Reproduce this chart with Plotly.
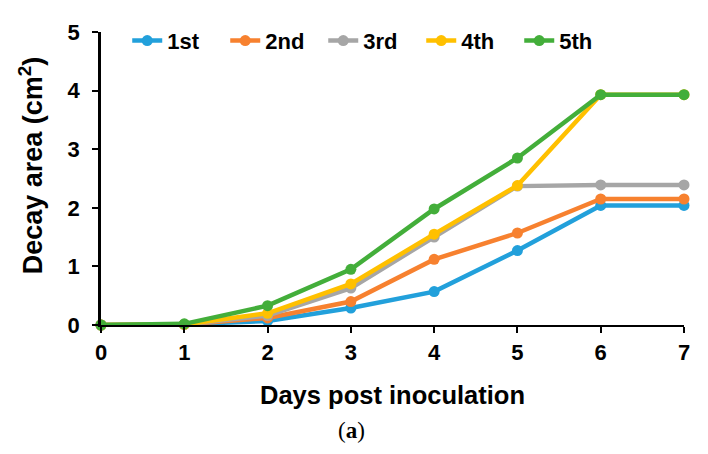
import plotly.graph_objects as go

days = [0, 1, 2, 3, 4, 5, 6, 7]
series_names = ["1st", "2nd", "3rd", "4th", "5th"]
s1 = [0, 0.01, 0.07, 0.29, 0.57, 1.27, 2.04, 2.04]
s2 = [0, 0.01, 0.12, 0.40, 1.12, 1.57, 2.15, 2.15]
s3 = [0, 0.01, 0.16, 0.63, 1.50, 2.37, 2.39, 2.39]
s4 = [0, 0.01, 0.20, 0.70, 1.55, 2.38, 3.93, 3.93]
s5 = [0, 0.02, 0.33, 0.95, 1.98, 2.85, 3.93, 3.93]
colors = ["#22a0db", "#f7812f", "#a6a6a6", "#ffc000", "#43ae3a"]
x_ticks = [0, 1, 2, 3, 4, 5, 6, 7]
y_ticks = [0, 1, 2, 3, 4, 5]

FONT = "Liberation Sans, Arial, sans-serif"

fig = go.Figure()
for name, vals, col in zip(series_names, [s1, s2, s3, s4, s5], colors):
    fig.add_trace(go.Scatter(
        x=days, y=vals, name=name, mode="lines+markers",
        line=dict(color=col, width=4.5),
        marker=dict(color=col, size=11),
        cliponaxis=False,
    ))

fig.update_layout(
    width=700, height=446,
    margin=dict(l=93, r=24, t=18, b=129),
    paper_bgcolor="white", plot_bgcolor="white",
    font=dict(family=FONT, color="black", size=17),
    showlegend=True,
    legend=dict(orientation="h", x=0.045, y=0.97, xanchor="left", yanchor="middle",
                font=dict(size=22, family=FONT, weight="bold"),
                entrywidth=53, tracegroupgap=0, bgcolor="rgba(0,0,0,0)"),
    xaxis=dict(range=[0, 7], tickvals=x_ticks, showgrid=False, zeroline=False,
               showline=True, linecolor="black", linewidth=2,
               ticks="outside", ticklen=6, tickwidth=2, tickcolor="black",
               ticklabelstandoff=1,
               tickfont=dict(size=22, weight="bold"),
               title=dict(text="<b>Days post inoculation</b>", font=dict(size=25.5), standoff=22)),
    yaxis=dict(range=[0, 5], tickvals=y_ticks, showgrid=False, zeroline=False,
               showline=True, linecolor="black", linewidth=2.5,
               ticks="outside", ticklen=6, tickwidth=2, tickcolor="black",
               ticklabelstandoff=8,
               tickfont=dict(size=22, weight="bold")),
)

fig.add_annotation(text="<b>Decay area (cm<sup>2</sup>)</b>", xref="paper", yref="paper",
                   x=-0.12, y=0.545, textangle=-90, showarrow=False,
                   font=dict(family=FONT, size=27, color="black"),
                   xanchor="center", yanchor="middle")

fig.add_annotation(text="(<b>a</b>)", xref="paper", yref="paper", x=0.43, y=-0.36,
                   showarrow=False, font=dict(family="Liberation Serif, serif", size=23, color="black"),
                   xanchor="center", yanchor="middle")

fig.write_html("out.html")
